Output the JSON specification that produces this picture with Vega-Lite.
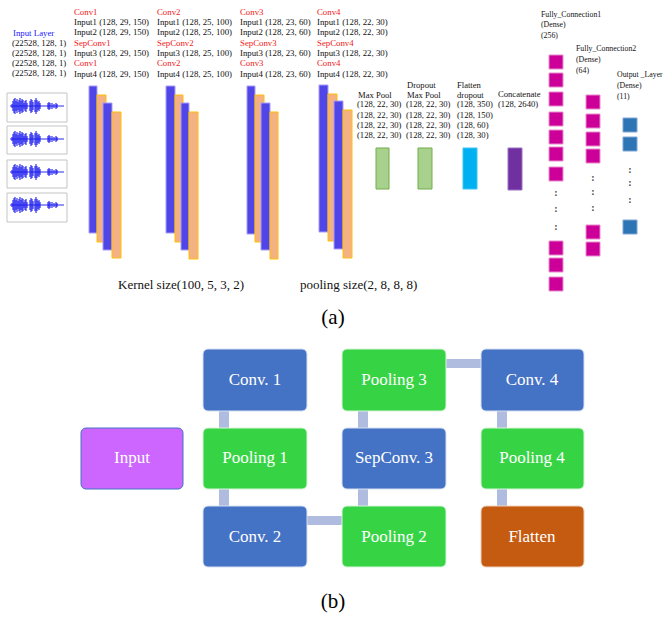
{
  "$schema": "https://vega.github.io/schema/vega-lite/v6.json",
  "width": 669,
  "height": 621,
  "padding": 0,
  "autosize": {"type": "none"},
  "background": "#ffffff",
  "config": {"view": {"stroke": null}},
  "datasets": {
    "bars": [
      {"x": 89, "x2": 97, "y": 86, "y2": 233, "k": "conv"},
      {"x": 97, "x2": 106, "y": 95, "y2": 242, "k": "sep"},
      {"x": 103, "x2": 112, "y": 103, "y2": 250, "k": "conv"},
      {"x": 112, "x2": 121, "y": 112, "y2": 258, "k": "sep"},
      {"x": 166, "x2": 175, "y": 86, "y2": 233, "k": "conv"},
      {"x": 175, "x2": 183, "y": 95, "y2": 242, "k": "sep"},
      {"x": 181, "x2": 189, "y": 103, "y2": 250, "k": "conv"},
      {"x": 189, "x2": 198, "y": 112, "y2": 259, "k": "sep"},
      {"x": 247, "x2": 255, "y": 86, "y2": 234, "k": "conv"},
      {"x": 255, "x2": 264, "y": 95, "y2": 242, "k": "sep"},
      {"x": 261, "x2": 270, "y": 103, "y2": 250, "k": "conv"},
      {"x": 270, "x2": 278, "y": 112, "y2": 259, "k": "sep"},
      {"x": 319, "x2": 328, "y": 85, "y2": 232, "k": "conv"},
      {"x": 328, "x2": 337, "y": 94, "y2": 241, "k": "sep"},
      {"x": 334, "x2": 343, "y": 101, "y2": 249, "k": "conv"},
      {"x": 343, "x2": 352, "y": 110, "y2": 258, "k": "sep"},
      {"x": 376, "x2": 389, "y": 148, "y2": 189, "k": "pool"},
      {"x": 418, "x2": 432, "y": 148, "y2": 189, "k": "pool"},
      {"x": 463, "x2": 477, "y": 148, "y2": 189, "k": "flat"},
      {"x": 508, "x2": 522, "y": 148, "y2": 190, "k": "concat"},
      {"x": 549, "x2": 563, "y": 55, "y2": 69, "k": "fc"},
      {"x": 549, "x2": 563, "y": 73, "y2": 87, "k": "fc"},
      {"x": 549, "x2": 563, "y": 92, "y2": 106, "k": "fc"},
      {"x": 549, "x2": 563, "y": 112, "y2": 126, "k": "fc"},
      {"x": 549, "x2": 563, "y": 130, "y2": 144, "k": "fc"},
      {"x": 549, "x2": 563, "y": 147, "y2": 161, "k": "fc"},
      {"x": 549, "x2": 563, "y": 167, "y2": 181, "k": "fc"},
      {"x": 549, "x2": 563, "y": 241, "y2": 255, "k": "fc"},
      {"x": 549, "x2": 563, "y": 258, "y2": 272, "k": "fc"},
      {"x": 549, "x2": 563, "y": 277, "y2": 291, "k": "fc"},
      {"x": 586, "x2": 600, "y": 95, "y2": 109, "k": "fc"},
      {"x": 586, "x2": 600, "y": 114, "y2": 128, "k": "fc"},
      {"x": 586, "x2": 600, "y": 132, "y2": 146, "k": "fc"},
      {"x": 586, "x2": 600, "y": 149, "y2": 163, "k": "fc"},
      {"x": 586, "x2": 600, "y": 225, "y2": 239, "k": "fc"},
      {"x": 586, "x2": 600, "y": 242, "y2": 256, "k": "fc"},
      {"x": 623, "x2": 637, "y": 118, "y2": 132, "k": "out"},
      {"x": 623, "x2": 637, "y": 137, "y2": 151, "k": "out"},
      {"x": 623, "x2": 637, "y": 220, "y2": 234, "k": "out"}
    ],
    "waveBoxes": [
      {"x": 7, "x2": 67, "y": 93, "y2": 122},
      {"x": 7, "x2": 67, "y": 126, "y2": 154},
      {"x": 7, "x2": 67, "y": 160, "y2": 188},
      {"x": 7, "x2": 67, "y": 193, "y2": 222}
    ],
    "waveAxis": [
      {"x": 10, "x2": 64, "y": 106},
      {"x": 10, "x2": 64, "y": 139},
      {"x": 10, "x2": 64, "y": 172},
      {"x": 10, "x2": 64, "y": 205}
    ],
    "wave": [
      {"x": 12, "y": 104, "y2": 108}, {"x": 13, "y": 101, "y2": 111}, {"x": 14, "y": 99, "y2": 113}, {"x": 15, "y": 98, "y2": 114},
      {"x": 16, "y": 101, "y2": 111}, {"x": 17, "y": 99, "y2": 113}, {"x": 18, "y": 102, "y2": 110}, {"x": 19, "y": 100, "y2": 112},
      {"x": 20, "y": 98, "y2": 114}, {"x": 21, "y": 101, "y2": 111}, {"x": 22, "y": 99, "y2": 113}, {"x": 23, "y": 100, "y2": 112},
      {"x": 24, "y": 103, "y2": 109}, {"x": 25, "y": 101, "y2": 111}, {"x": 26, "y": 100, "y2": 112}, {"x": 27, "y": 103, "y2": 109},
      {"x": 30, "y": 101, "y2": 111}, {"x": 31, "y": 99, "y2": 113}, {"x": 32, "y": 100, "y2": 112}, {"x": 33, "y": 102, "y2": 110},
      {"x": 35, "y": 100, "y2": 112}, {"x": 36, "y": 98, "y2": 114}, {"x": 37, "y": 100, "y2": 112}, {"x": 38, "y": 102, "y2": 110},
      {"x": 39, "y": 101, "y2": 111}, {"x": 40, "y": 103, "y2": 109}, {"x": 48, "y": 103, "y2": 109}, {"x": 49, "y": 102, "y2": 110},
      {"x": 50, "y": 103, "y2": 109}, {"x": 52, "y": 103, "y2": 109}, {"x": 54, "y": 104, "y2": 108}, {"x": 56, "y": 103, "y2": 109},
      {"x": 57, "y": 104, "y2": 108},
      {"x": 12, "y": 137, "y2": 141}, {"x": 13, "y": 134, "y2": 144}, {"x": 14, "y": 132, "y2": 146}, {"x": 15, "y": 131, "y2": 147},
      {"x": 16, "y": 134, "y2": 144}, {"x": 17, "y": 132, "y2": 146}, {"x": 18, "y": 135, "y2": 143}, {"x": 19, "y": 133, "y2": 145},
      {"x": 20, "y": 131, "y2": 147}, {"x": 21, "y": 134, "y2": 144}, {"x": 22, "y": 132, "y2": 146}, {"x": 23, "y": 133, "y2": 145},
      {"x": 24, "y": 136, "y2": 142}, {"x": 25, "y": 134, "y2": 144}, {"x": 26, "y": 133, "y2": 145}, {"x": 27, "y": 136, "y2": 142},
      {"x": 30, "y": 134, "y2": 144}, {"x": 31, "y": 132, "y2": 146}, {"x": 32, "y": 133, "y2": 145}, {"x": 33, "y": 135, "y2": 143},
      {"x": 35, "y": 133, "y2": 145}, {"x": 36, "y": 131, "y2": 147}, {"x": 37, "y": 133, "y2": 145}, {"x": 38, "y": 135, "y2": 143},
      {"x": 39, "y": 134, "y2": 144}, {"x": 40, "y": 136, "y2": 142}, {"x": 48, "y": 136, "y2": 142}, {"x": 49, "y": 135, "y2": 143},
      {"x": 50, "y": 136, "y2": 142}, {"x": 52, "y": 136, "y2": 142}, {"x": 54, "y": 137, "y2": 141}, {"x": 56, "y": 136, "y2": 142},
      {"x": 57, "y": 137, "y2": 141},
      {"x": 12, "y": 170, "y2": 174}, {"x": 13, "y": 167, "y2": 177}, {"x": 14, "y": 165, "y2": 179}, {"x": 15, "y": 164, "y2": 180},
      {"x": 16, "y": 167, "y2": 177}, {"x": 17, "y": 165, "y2": 179}, {"x": 18, "y": 168, "y2": 176}, {"x": 19, "y": 166, "y2": 178},
      {"x": 20, "y": 164, "y2": 180}, {"x": 21, "y": 167, "y2": 177}, {"x": 22, "y": 165, "y2": 179}, {"x": 23, "y": 166, "y2": 178},
      {"x": 24, "y": 169, "y2": 175}, {"x": 25, "y": 167, "y2": 177}, {"x": 26, "y": 166, "y2": 178}, {"x": 27, "y": 169, "y2": 175},
      {"x": 30, "y": 167, "y2": 177}, {"x": 31, "y": 165, "y2": 179}, {"x": 32, "y": 166, "y2": 178}, {"x": 33, "y": 168, "y2": 176},
      {"x": 35, "y": 166, "y2": 178}, {"x": 36, "y": 164, "y2": 180}, {"x": 37, "y": 166, "y2": 178}, {"x": 38, "y": 168, "y2": 176},
      {"x": 39, "y": 167, "y2": 177}, {"x": 40, "y": 169, "y2": 175}, {"x": 48, "y": 169, "y2": 175}, {"x": 49, "y": 168, "y2": 176},
      {"x": 50, "y": 169, "y2": 175}, {"x": 52, "y": 169, "y2": 175}, {"x": 54, "y": 170, "y2": 174}, {"x": 56, "y": 169, "y2": 175},
      {"x": 57, "y": 170, "y2": 174},
      {"x": 12, "y": 203, "y2": 207}, {"x": 13, "y": 200, "y2": 210}, {"x": 14, "y": 198, "y2": 212}, {"x": 15, "y": 197, "y2": 213},
      {"x": 16, "y": 200, "y2": 210}, {"x": 17, "y": 198, "y2": 212}, {"x": 18, "y": 201, "y2": 209}, {"x": 19, "y": 199, "y2": 211},
      {"x": 20, "y": 197, "y2": 213}, {"x": 21, "y": 200, "y2": 210}, {"x": 22, "y": 198, "y2": 212}, {"x": 23, "y": 199, "y2": 211},
      {"x": 24, "y": 202, "y2": 208}, {"x": 25, "y": 200, "y2": 210}, {"x": 26, "y": 199, "y2": 211}, {"x": 27, "y": 202, "y2": 208},
      {"x": 30, "y": 200, "y2": 210}, {"x": 31, "y": 198, "y2": 212}, {"x": 32, "y": 199, "y2": 211}, {"x": 33, "y": 201, "y2": 209},
      {"x": 35, "y": 199, "y2": 211}, {"x": 36, "y": 197, "y2": 213}, {"x": 37, "y": 199, "y2": 211}, {"x": 38, "y": 201, "y2": 209},
      {"x": 39, "y": 200, "y2": 210}, {"x": 40, "y": 202, "y2": 208}, {"x": 48, "y": 202, "y2": 208}, {"x": 49, "y": 201, "y2": 209},
      {"x": 50, "y": 202, "y2": 208}, {"x": 52, "y": 202, "y2": 208}, {"x": 54, "y": 203, "y2": 207}, {"x": 56, "y": 202, "y2": 208},
      {"x": 57, "y": 203, "y2": 207}
    ],
    "boxes": [
      {"x": 81, "x2": 183, "y": 428, "y2": 489, "k": "input"},
      {"x": 203, "x2": 307, "y": 349, "y2": 411, "k": "conv"},
      {"x": 203, "x2": 307, "y": 428, "y2": 489, "k": "pool"},
      {"x": 203, "x2": 307, "y": 506, "y2": 567, "k": "conv"},
      {"x": 342, "x2": 446, "y": 349, "y2": 411, "k": "pool"},
      {"x": 342, "x2": 446, "y": 428, "y2": 489, "k": "conv"},
      {"x": 342, "x2": 446, "y": 506, "y2": 567, "k": "pool"},
      {"x": 481, "x2": 584, "y": 349, "y2": 411, "k": "conv"},
      {"x": 481, "x2": 584, "y": 428, "y2": 489, "k": "pool"},
      {"x": 481, "x2": 584, "y": 506, "y2": 567, "k": "flat"}
    ],
    "links": [
      {"x": 219, "x2": 229, "y": 411, "y2": 428},
      {"x": 219, "x2": 229, "y": 489, "y2": 506},
      {"x": 307, "x2": 342, "y": 516, "y2": 525},
      {"x": 358, "x2": 368, "y": 489, "y2": 506},
      {"x": 358, "x2": 368, "y": 411, "y2": 428},
      {"x": 446, "x2": 481, "y": 359, "y2": 368},
      {"x": 497, "x2": 507, "y": 411, "y2": 428},
      {"x": 497, "x2": 507, "y": 489, "y2": 506}
    ],
    "boxLabels": [
      {"x": 132, "y": 458, "t": "Input"},
      {"x": 255, "y": 380, "t": "Conv. 1"},
      {"x": 255, "y": 458, "t": "Pooling 1"},
      {"x": 255, "y": 537, "t": "Conv. 2"},
      {"x": 394, "y": 380, "t": "Pooling 3"},
      {"x": 394, "y": 458, "t": "SepConv. 3"},
      {"x": 394, "y": 537, "t": "Pooling 2"},
      {"x": 532, "y": 380, "t": "Conv. 4"},
      {"x": 532, "y": 458, "t": "Pooling 4"},
      {"x": 532, "y": 537, "t": "Flatten"}
    ],
    "txtBlue": [
      {"x": 13, "y": 33, "t": "Input Layer"}
    ],
    "txtRed": [
      {"x": 74, "y": 12, "t": "Conv1"}, {"x": 74, "y": 43, "t": "SepConv1"}, {"x": 74, "y": 63, "t": "Conv1"},
      {"x": 157, "y": 12, "t": "Conv2"}, {"x": 157, "y": 43, "t": "SepConv2"}, {"x": 157, "y": 63, "t": "Conv2"},
      {"x": 240, "y": 12, "t": "Conv3"}, {"x": 240, "y": 43, "t": "SepConv3"}, {"x": 240, "y": 63, "t": "Conv3"},
      {"x": 317, "y": 12, "t": "Conv4"}, {"x": 317, "y": 43, "t": "SepConv4"}, {"x": 317, "y": 63, "t": "Conv4"}
    ],
    "txtBlack": [
      {"x": 12, "y": 43, "t": "(22528, 128, 1)"}, {"x": 12, "y": 53, "t": "(22528, 128, 1)"},
      {"x": 12, "y": 63, "t": "(22528, 128, 1)"}, {"x": 12, "y": 73, "t": "(22528, 128, 1)"},
      {"x": 74, "y": 22, "t": "Input1 (128, 29, 150)"}, {"x": 74, "y": 32, "t": "Input2 (128, 29, 150)"},
      {"x": 74, "y": 53, "t": "Input3 (128, 29, 150)"}, {"x": 74, "y": 74, "t": "Input4 (128, 29, 150)"},
      {"x": 157, "y": 22, "t": "Input1 (128, 25, 100)"}, {"x": 157, "y": 32, "t": "Input2 (128, 25, 100)"},
      {"x": 157, "y": 53, "t": "Input3 (128, 25, 100)"}, {"x": 157, "y": 74, "t": "Input4 (128, 25, 100)"},
      {"x": 240, "y": 22, "t": "Input1 (128, 23, 60)"}, {"x": 240, "y": 32, "t": "Input2 (128, 23, 60)"},
      {"x": 240, "y": 53, "t": "Input3 (128, 23, 60)"}, {"x": 240, "y": 74, "t": "Input4 (128, 23, 60)"},
      {"x": 317, "y": 22, "t": "Input1 (128, 22, 30)"}, {"x": 317, "y": 32, "t": "Input2 (128, 22, 30)"},
      {"x": 317, "y": 53, "t": "Input3 (128, 22, 30)"}, {"x": 317, "y": 74, "t": "Input4 (128, 22, 30)"}
    ],
    "txtSmall": [
      {"x": 358, "y": 95, "t": "Max Pool"},
      {"x": 357, "y": 104, "t": "(128, 22, 30)"}, {"x": 357, "y": 115, "t": "(128, 22, 30)"},
      {"x": 357, "y": 125, "t": "(128, 22, 30)"}, {"x": 357, "y": 135, "t": "(128, 22, 30)"},
      {"x": 407, "y": 85, "t": "Dropout"}, {"x": 407, "y": 95, "t": "Max Pool"},
      {"x": 406, "y": 104, "t": "(128, 22, 30)"}, {"x": 406, "y": 115, "t": "(128, 22, 30)"},
      {"x": 406, "y": 125, "t": "(128, 22, 30)"}, {"x": 406, "y": 135, "t": "(128, 22, 30)"},
      {"x": 457, "y": 85, "t": "Flatten"}, {"x": 457, "y": 95, "t": "dropout"},
      {"x": 457, "y": 104, "t": "(128,  350)"}, {"x": 457, "y": 115, "t": "(128,  150)"},
      {"x": 457, "y": 125, "t": "(128,  60)"}, {"x": 457, "y": 135, "t": "(128,  30)"},
      {"x": 498, "y": 94, "t": "Concatenate"}, {"x": 498, "y": 104, "t": "(128,  2640)"}
    ],
    "txtFC": [
      {"x": 541, "y": 15, "t": "Fully_Connection1"}, {"x": 541, "y": 25, "t": "(Dense)"}, {"x": 541, "y": 36, "t": "(256)"},
      {"x": 576, "y": 49, "t": "Fully_Connection2"}, {"x": 576, "y": 60, "t": "(Dense)"}, {"x": 576, "y": 71, "t": "(64)"},
      {"x": 617, "y": 75, "t": "Output _Layer"}, {"x": 617, "y": 86, "t": "(Dense)"}, {"x": 617, "y": 97, "t": "(11)"}
    ],
    "txtMid": [
      {"x": 118, "y": 285, "t": "Kernel size(100, 5, 3, 2)"},
      {"x": 300, "y": 285, "t": "pooling size(2, 8, 8, 8)"}
    ],
    "txtBig": [
      {"x": 333, "y": 318, "t": "(a)"},
      {"x": 333, "y": 602, "t": "(b)"}
    ],
    "dots": [
      {"x": 556, "y": 193, "t": ":"}, {"x": 556, "y": 209, "t": ":"}, {"x": 556, "y": 227, "t": ":"},
      {"x": 593, "y": 178, "t": ":"}, {"x": 593, "y": 192, "t": ":"}, {"x": 593, "y": 208, "t": ":"},
      {"x": 630, "y": 170, "t": ":"}, {"x": 630, "y": 183, "t": ":"}, {"x": 630, "y": 200, "t": ":"}
    ]
  },
  "encoding": {
    "x": {"field": "x", "type": "quantitative", "scale": {"domain": [0, 669], "nice": false, "zero": false}, "axis": null},
    "y": {"field": "y", "type": "quantitative", "scale": {"domain": [0, 621], "nice": false, "zero": false, "reverse": true}, "axis": null}
  },
  "resolve": {"scale": {"fill": "independent", "stroke": "independent", "color": "independent"}},
  "layer": [
    {
      "data": {"name": "waveBoxes"},
      "mark": {"type": "rect", "fill": "#ffffff", "stroke": "#c4c4c4", "strokeWidth": 1},
      "encoding": {"x2": {"field": "x2"}, "y2": {"field": "y2"}}
    },
    {
      "data": {"name": "waveAxis"},
      "mark": {"type": "rule", "color": "#2a2af0", "strokeWidth": 1},
      "encoding": {"x2": {"field": "x2"}}
    },
    {
      "data": {"name": "wave"},
      "mark": {"type": "rule", "color": "#1818ee", "strokeWidth": 1.2, "opacity": 0.9},
      "encoding": {"y2": {"field": "y2"}}
    },
    {
      "data": {"name": "bars"},
      "mark": {"type": "rect", "strokeWidth": 1},
      "encoding": {
        "x2": {"field": "x2"},
        "y2": {"field": "y2"},
        "fill": {"field": "k", "type": "nominal", "legend": null,
          "scale": {"domain": ["conv", "sep", "pool", "flat", "concat", "fc", "out"],
                    "range": ["#5046E8", "#F4B183", "#A9D18E", "#00B0F0", "#7030A0", "#CC0099", "#2E75B6"]}},
        "stroke": {"field": "k", "type": "nominal", "legend": null,
          "scale": {"domain": ["conv", "sep", "pool", "flat", "concat", "fc", "out"],
                    "range": ["#A99CF5", "#FFC000", "#70AD47", "#3CC4F4", "#9A70C4", "#E88ACB", "#7EA6D6"]}}
      }
    },
    {
      "data": {"name": "links"},
      "mark": {"type": "rect", "fill": "#B0BCDF"},
      "encoding": {"x2": {"field": "x2"}, "y2": {"field": "y2"}}
    },
    {
      "data": {"name": "boxes"},
      "mark": {"type": "rect", "cornerRadius": 5, "strokeWidth": 1},
      "encoding": {
        "x2": {"field": "x2"},
        "y2": {"field": "y2"},
        "fill": {"field": "k", "type": "nominal", "legend": null,
          "scale": {"domain": ["conv", "pool", "input", "flat"], "range": ["#4472C4", "#36D444", "#CC66FF", "#C55A11"]}},
        "stroke": {"field": "k", "type": "nominal", "legend": null,
          "scale": {"domain": ["conv", "pool", "input", "flat"], "range": ["#D6E0F2", "#D6F5D8", "#4472C4", "#F0D2BE"]}}
      }
    },
    {
      "data": {"name": "boxLabels"},
      "mark": {"type": "text", "align": "center", "baseline": "middle", "font": "Liberation Serif", "fontSize": 17, "color": "#ffffff"},
      "encoding": {"text": {"field": "t"}}
    },
    {
      "data": {"name": "txtBlue"},
      "mark": {"type": "text", "align": "left", "baseline": "middle", "font": "Liberation Serif", "fontSize": 8.8, "color": "#2020FF"},
      "encoding": {"text": {"field": "t"}}
    },
    {
      "data": {"name": "txtRed"},
      "mark": {"type": "text", "align": "left", "baseline": "middle", "font": "Liberation Serif", "fontSize": 8.8, "color": "#F22020"},
      "encoding": {"text": {"field": "t"}}
    },
    {
      "data": {"name": "txtBlack"},
      "mark": {"type": "text", "align": "left", "baseline": "middle", "font": "Liberation Serif", "fontSize": 8.8, "color": "#111111"},
      "encoding": {"text": {"field": "t"}}
    },
    {
      "data": {"name": "txtSmall"},
      "mark": {"type": "text", "align": "left", "baseline": "middle", "font": "Liberation Serif", "fontSize": 8.6, "color": "#111111"},
      "encoding": {"text": {"field": "t"}}
    },
    {
      "data": {"name": "txtFC"},
      "mark": {"type": "text", "align": "left", "baseline": "middle", "font": "Liberation Serif", "fontSize": 7.8, "color": "#111111"},
      "encoding": {"text": {"field": "t"}}
    },
    {
      "data": {"name": "txtMid"},
      "mark": {"type": "text", "align": "left", "baseline": "middle", "font": "Liberation Serif", "fontSize": 13, "color": "#111111"},
      "encoding": {"text": {"field": "t"}}
    },
    {
      "data": {"name": "txtBig"},
      "mark": {"type": "text", "align": "center", "baseline": "middle", "font": "Liberation Serif", "fontSize": 21, "color": "#000000"},
      "encoding": {"text": {"field": "t"}}
    },
    {
      "data": {"name": "dots"},
      "mark": {"type": "text", "align": "center", "baseline": "middle", "font": "Liberation Serif", "fontSize": 10, "fontWeight": "bold", "color": "#444444"},
      "encoding": {"text": {"field": "t"}}
    }
  ]
}
